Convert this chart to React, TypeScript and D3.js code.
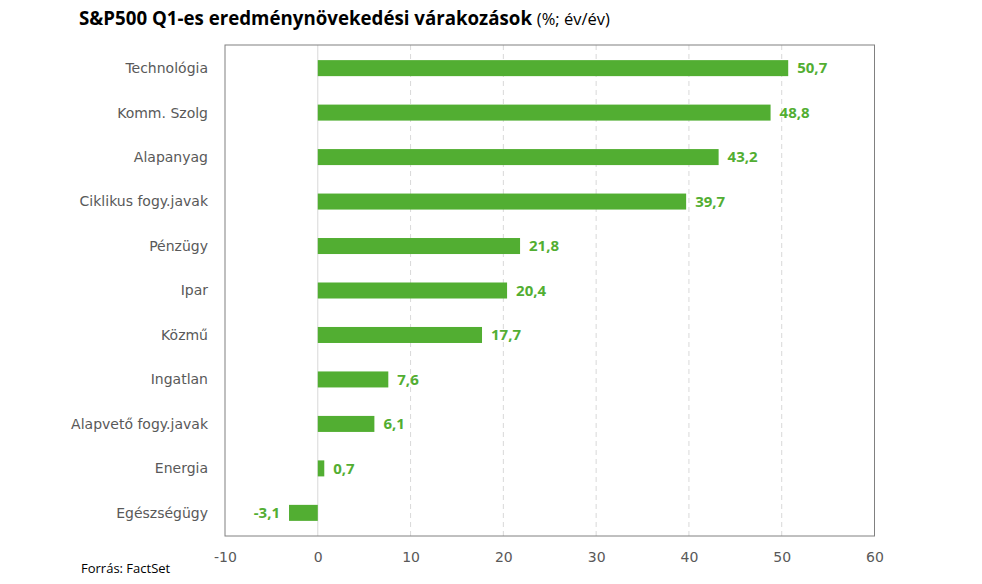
import React, { useRef, useEffect } from 'react';
import * as d3 from 'd3';

const categories = ['Technológia', 'Komm. Szolg', 'Alapanyag', 'Ciklikus fogy.javak', 'Pénzügy', 'Ipar', 'Közmű', 'Ingatlan', 'Alapvető fogy.javak', 'Energia', 'Egészségügy'];
const values = [50.7, 48.8, 43.2, 39.7, 21.8, 20.4, 17.7, 7.6, 6.1, 0.7, -3.1];
const xTicks = [-10, 0, 10, 20, 30, 40, 50, 60];

const GREEN = '#52ae32';

const App = () => {
  const svgRef = useRef<SVGSVGElement | null>(null);

  useEffect(() => {
    const width = 982;
    const height = 584;
    const margin = { top: 45, right: 108, bottom: 48, left: 225 };
    const innerW = 874.5 - margin.left;
    const innerH = 536 - margin.top;

    const svg = d3.select(svgRef.current);
    svg.selectAll('*').remove();
    svg.attr('width', width).attr('height', height).style('display', 'block');

    const x = d3.scaleLinear().domain([-10, 60]).range([0, innerW]);
    const y = d3.scaleBand().domain(categories).range([0, innerH]).paddingInner(0.64).paddingOuter(0.34);

    const g = svg.append('g').attr('transform', `translate(${margin.left},${margin.top})`);

    // grid lines
    g.selectAll('line.grid')
      .data(xTicks.filter(t => t !== -10 && t !== 60 && t !== 0))
      .enter().append('line')
      .attr('x1', d => x(d)).attr('x2', d => x(d))
      .attr('y1', 0).attr('y2', innerH)
      .attr('stroke', '#d9d9d9')
      .attr('stroke-dasharray', '5,4');

    // zero line
    g.append('line')
      .attr('x1', x(0)).attr('x2', x(0))
      .attr('y1', 0).attr('y2', innerH)
      .attr('stroke', '#d9d9d9');

    // bars
    g.selectAll('rect.bar')
      .data(values)
      .enter().append('rect')
      .attr('x', d => x(Math.min(0, d)))
      .attr('y', (d, i) => y(categories[i])!)
      .attr('width', d => Math.abs(x(d) - x(0)))
      .attr('height', y.bandwidth())
      .attr('fill', GREEN);

    // value labels
    g.selectAll('text.val')
      .data(values)
      .enter().append('text')
      .attr('x', d => d >= 0 ? x(d) + 9 : x(d) - 9)
      .attr('y', (d, i) => y(categories[i])! + y.bandwidth() / 2)
      .attr('dy', '0.35em')
      .attr('text-anchor', d => d >= 0 ? 'start' : 'end')
      .attr('font-family', '"Open Sans", sans-serif')
      .attr('font-weight', 'bold')
      .attr('font-size', 15)
      .attr('fill', GREEN)
      .text(d => d.toFixed(1).replace('.', ','));

    // box
    g.append('rect')
      .attr('x', 0).attr('y', 0)
      .attr('width', innerW).attr('height', innerH)
      .attr('fill', 'none')
      .attr('stroke', '#808080');

    // category labels
    g.selectAll('text.cat')
      .data(categories)
      .enter().append('text')
      .attr('x', -17)
      .attr('y', d => y(d)! + y.bandwidth() / 2)
      .attr('dy', '0.35em')
      .attr('text-anchor', 'end')
      .attr('font-family', '"DejaVu Sans", sans-serif')
      .attr('font-size', 14)
      .attr('fill', '#595959')
      .text(d => d);

    // x axis labels
    const xAxis = d3.axisBottom(x).tickValues(xTicks).tickSize(0).tickPadding(16).tickFormat(d => String(d));
    const ax = g.append('g').attr('transform', `translate(0,${innerH})`).call(xAxis);
    ax.select('.domain').remove();
    ax.selectAll('text')
      .attr('font-family', '"DejaVu Sans", sans-serif')
      .attr('font-size', 14)
      .attr('fill', '#595959');

    // title
    const title = svg.append('text')
      .attr('x', 79).attr('y', 25)
      .attr('font-family', '"Open Sans", sans-serif')
      .attr('fill', '#000');
    title.append('tspan').attr('font-weight', 'bold').attr('font-size', 18.7).text('S&P500 Q1-es eredménynövekedési várakozások ');
    title.append('tspan').attr('font-size', 16.5).text('(%; év/év)');

    // source
    svg.append('text')
      .attr('x', 81).attr('y', 573)
      .attr('font-family', '"Open Sans", sans-serif')
      .attr('font-size', 13)
      .attr('fill', '#000')
      .text('Forrás: FactSet');
  }, []);

  return <div style={{ position: 'absolute', left: 0, top: 0 }}><svg ref={svgRef}></svg></div>;
};

export default App;
